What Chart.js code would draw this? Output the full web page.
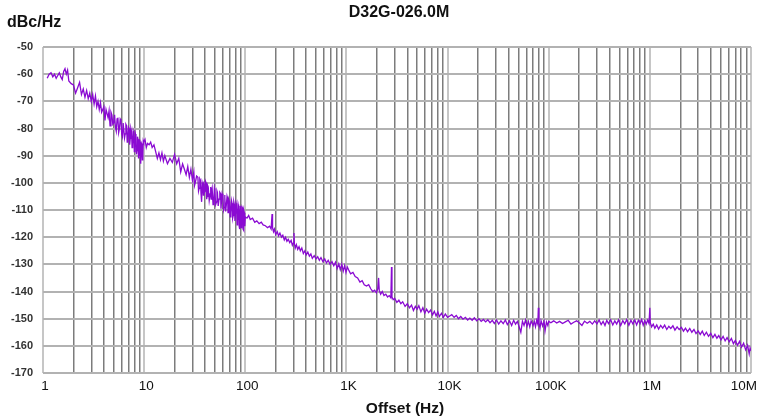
<!DOCTYPE html>
<html>
<head>
<meta charset="utf-8">
<title>D32G-026.0M</title>
<script src="https://cdn.jsdelivr.net/npm/chart.js@4"></script>
<style>
  html, body { margin: 0; padding: 0; background: #fff; }
  #wrap { width: 759px; height: 419px; }
</style>
</head>
<body>
<div id="wrap"><canvas id="chart" width="759" height="419"></canvas></div>
<script>
// Phase noise of D32G-026.0M (offset in Hz, level in dBc/Hz)
const chartTitle = 'D32G-026.0M';
const yTitle = 'dBc/Hz';
const xTitle = 'Offset (Hz)';

const xMajorTicks = [1, 10, 100, 1000, 10000, 100000, 1000000, 10000000];
const xTickLabels = ['1', '10', '100', '1K', '10K', '100K', '1M', '10M'];
const yMin = -170, yMax = -50, yStep = 10;

// 1 Hz .. 10 Hz
const offset1 = [1.1,1.15,1.2,1.25,1.3,1.35,1.4,1.45,1.5,1.55, 1.6,1.65,1.7,1.75,1.8,1.9,2.0,2.1,2.2,2.3,
  2.4,2.5,2.6,2.7,2.8,2.9,3.0,3.1,3.2,3.3, 3.4,3.5,3.6,3.7,3.8,4.0,4.1,4.2,4.4,4.5,
  4.6,4.7,4.8,4.9,5.0,5.1,5.2,5.3,5.4,5.5, 5.6,5.7,5.8,5.9,6.0,6.1,6.2,6.3,6.4,6.5,
  6.6,6.7,6.8,6.9,7.0,7.1,7.2,7.3,7.4,7.5, 7.6,7.7,7.8,7.9,8.0,8.1,8.2,8.3,8.4,8.5,
  8.6,8.7,8.8,8.9,9.0,9.1,9.2,9.3,9.4,9.5, 9.6,9.7,9.8,9.9];
const noise1 = [-61.5,-60,-59.5,-61,-60,-61.5,-60.5,-59.5,-61,-62, -59,-58,-60,-58.5,-62.5,-63.5,-64,-67,-65,-63,
  -67.5,-65.5,-68.5,-66,-69,-67,-70,-67.5,-71,-68, -72,-70,-73,-70.5,-74,-72,-77,-73,-76,-73.5,
  -79,-74,-75,-78.5,-78,-75,-79.5,-81,-76.5,-76, -81.5,-80,-76.5,-77,-82,-83,-78,-78,-83.5,-82,
  -78.5,-79,-85,-84,-79.5,-80,-86,-83.5,-80,-81, -87,-86,-81,-82,-88.5,-87,-82,-83,-89.5,-88,
  -83,-84,-91,-90,-84,-85,-93,-92.5,-85.5,-86, -91.5,-90,-84.5,-85];

// 10 Hz .. 100 Hz
const offset2 = [10.2,10.5,10.8,11.2,11.6,12,12.5,13,13.5,14, 14.5,15,15.5,16,17,18,19,20,21,22,
  23,24,25,26,27,28,29,
  30,31,31.5,32,33,34,34.5,35,35.5,36, 36.5,37,37.5,38,38.5,39,39.5,40,40.5,41,
  41.5,42,42.5,43,44,45,45.5,46,46.5,47, 48,49,49.5,50,51,52,52.5,53,54,55,
  56,57,57.5,58,59,60,61,62,62.5,63, 64,65,66,67,67.5,68,69,70,71,72,
  73,74,75,76,77,78,79,80,81,82, 83,84,85,86,87,88,89,90,91,92,
  93,94,95,96,97,98,99];
const noise2 = [-84,-87,-85.5,-86,-85,-87,-86,-88.5,-91,-89, -91.5,-89,-92,-90,-93,-91,-92.5,-89.5,-93,-91,
  -96,-93,-95,-97,-94,-98,-95,
  -99,-96,-101,-100,-97.5,-98,-103,-102,-98.5,-99, -104,-107,-100,-101,-104.5,-99.5,-103.5,-103,-99.5,-100,
  -106,-105,-101,-101.5,-106.5,-104,-101.5,-106,-103,-102, -108,-105,-102,-103,-108,-107,-103,-103.5,-108.5,-106,
  -103.5,-104,-109.5,-107.5,-104,-105,-110,-109,-104.5,-105.5, -110.5,-108,-105,-106,-111,-110,-106,-107,-112.5,-111,
  -106.5,-107.5,-113,-112,-107,-108,-114,-111,-107.5,-108.5, -115.5,-114,-108,-109,-116,-117,-108.5,-110,-116.5,-115,
  -109,-109.5,-117,-117.5,-110,-111,-116];

// 100 Hz .. 1 kHz
const offset3 = [100,104,108,112,118,124,130,137,144,150, 158,166,174,180,184,186,190,194,200,207,
  213,220,228,235,243,250,258,266,275,284, 292,300,303,306,312,320,330,340,350,362,
  375,388,400,415,430,445,460,480,500,520, 540,560,585,610,635,660,690,720,750,780,
  810,840,870,900,930,960,990];
const noise3 = [-112.5,-113,-112,-113.5,-113,-114.5,-114,-115,-114.5,-115.5, -115.8,-116.5,-116,-117,-111.5,-116.5,-118,-117,-119,-118,
  -119.5,-118.5,-120,-119.3,-121,-120,-121.5,-120.8,-122,-121.2, -123,-122,-118.5,-122.5,-124,-122.8,-124.5,-123.5,-125,-124,
  -126,-125,-126.5,-125.5,-127,-126.2,-127.8,-126.8,-128,-127.2, -128.5,-127.5,-129,-128,-129.5,-128.5,-130,-129,-130.5,-129.2,
  -131.5,-129.8,-132,-130,-132.5,-130.5,-133];

// 1 kHz .. 10 kHz
const offset4 = [1020,1050,1100,1160,1220,1290,1360,1430,1500,1580, 1660,1740,1820,1900,1980,2040,2080,2110,2180,2260,
  2350,2450,2550,2650,2750,2790,2820,2900,3000,3150, 3300,3450,3600,3800,4000,4200,4400,4600,4800,5000,
  5200,5450,5700,5950,6200,6500,6800,7100,7400,7700, 8000,8300,8700,9100,9500];
const noise4 = [-131,-132,-133.5,-133,-134.5,-135,-136.5,-136,-137.5,-138, -137.5,-139,-140,-139.5,-140.5,-139,-135,-139.5,-141,-140,
  -141.5,-141,-142,-141.5,-142.3,-131,-142,-143,-142.5,-144, -143.2,-144.5,-143.8,-145.5,-144.5,-146,-145,-147,-145.5,-146.5,
  -145.2,-147.5,-146,-148,-146.5,-147.8,-146.8,-148.6,-147.3,-149, -147.5,-149.2,-148,-149.5,-148.3];

// 10 kHz .. 100 kHz
const offset5 = [10000,10500,11000,11600,12200,12800,13500,14200,15000,15800, 16600,17500,18400,19400,20400,21500,22600,23800,25000,26300,
  27700,29000,30500,32000,33700,35500,37300,39000,41000,43000, 45000,47000,49000,51000,53000,55000,57000,59000,61000,63000,
  65000,67000,70000,72000,74000,76000,78000,79000,80000,82000, 84000,87000,90000,92000,95000,98000];
const noise5 = [-149.5,-149,-148.5,-149.5,-148.8,-150,-149.2,-150.2,-149.5,-150.5, -149.8,-150.6,-149.7,-150.8,-150,-151,-150.3,-151.2,-150.4,-151.5,
  -150.6,-151.8,-150.5,-152,-150.8,-151.8,-150.5,-152.2,-150.8,-152.5, -150.6,-152,-151,-153,-155,-151,-152.5,-150.5,-152.8,-151,
  -153,-150.8,-152.5,-151,-153,-150.6,-152,-146,-151.5,-153.5, -150.8,-152.7,-151,-154.5,-151.2,-152.5];

// 100 kHz .. 1 MHz
const offset6 = [100000,105000,112000,120000,128000,137000,146000,156000,166000,177000, 189000,200000,213000,226000,240000,255000,270000,285000,300000,315000,
  330000,345000,360000,375000,390000,410000,430000,450000,470000,490000, 515000,540000,565000,590000,620000,650000,680000,710000,740000,770000,
  800000,830000,860000,890000,920000,950000,980000,1000000,1010000];
const noise6 = [-151,-151.5,-150.8,-151.6,-151,-151.8,-151.2,-150.6,-152,-151.3, -150.8,-151.5,-152.5,-150.9,-151.7,-151,-152,-150.8,-151.9,-150.5,
  -152.2,-151,-152.5,-150.6,-151.8,-150.4,-152.3,-150.8,-152,-150.5, -152.5,-150.7,-151.9,-150.4,-152.4,-150.6,-152,-150.5,-152.3,-150.6,
  -151.8,-150.3,-152.4,-150.7,-152,-150.5,-151.8,-146,-151.5];

// 1 MHz .. 10 MHz
const offset7 = [1040000,1080000,1120000,1170000,1220000,1280000,1340000,1400000,1470000,1540000, 1610000,1690000,1770000,1860000,1950000,2050000,2150000,2250000,2360000,2480000,
  2600000,2730000,2860000,3000000,3150000,3300000,3450000,3620000,3800000,4000000, 4200000,4400000,4600000,4800000,5050000,5300000,5550000,5800000,6100000,6400000,
  6700000,7000000,7350000,7700000,8050000,8450000,8850000,9250000,9600000,9800000, 10000000];
const noise7 = [-153,-152,-153.5,-152.3,-153.8,-152.5,-153.5,-152.4,-154,-152.8, -153.6,-152.6,-154.2,-153,-154,-153.2,-154.6,-153.5,-154.8,-153.6,
  -155,-154,-155.5,-154.5,-155.8,-154.6,-156.2,-155,-156.5,-155.4, -157,-155.8,-157.2,-156.2,-157.8,-156.5,-158.2,-157,-158.5,-157.3,
  -159.2,-158,-159.8,-158.4,-160.5,-159,-161.5,-159.8,-163,-160.8, -161.8];

const offsets = [].concat(offset1, offset2, offset3, offset4, offset5, offset6, offset7);
const noise = [].concat(noise1, noise2, noise3, noise4, noise5, noise6, noise7);
const points = offsets.map((f, i) => ({ x: f, y: noise[i] }));

// grid lines at 1..9 x each decade
const xGridTicks = [];
xMajorTicks.forEach(d => {
  for (let m = 1; m <= 9; m++) {
    if (d * m <= 10000000) xGridTicks.push(d * m);
  }
});

const textPlugin = {
  id: 'texts',
  afterDraw(chart) {
    const ctx = chart.ctx;
    const xs = chart.scales.x;
    ctx.save();
    ctx.fillStyle = '#111';
    ctx.textBaseline = 'middle';
    ctx.font = 'bold 16px "Liberation Sans", Arial, sans-serif';
    ctx.textAlign = 'center';
    ctx.fillText(chartTitle, 399, 13);
    ctx.textAlign = 'left';
    ctx.fillText(yTitle, 7, 23);
    ctx.font = 'bold 15.5px "Liberation Sans", Arial, sans-serif';
    ctx.textAlign = 'center';
    ctx.fillText(xTitle, 405, 409);
    // x tick labels, kept inside the canvas at the right edge
    ctx.font = '13.5px "Liberation Sans", Arial, sans-serif';
    ctx.fillStyle = '#111';
    xMajorTicks.forEach((v, i) => {
      let px = xs.getPixelForValue(v) + 2;
      const w = ctx.measureText(xTickLabels[i]).width;
      px = Math.min(px, chart.width - 2 - w / 2);
      ctx.fillText(xTickLabels[i], px, 386);
    });
    ctx.restore();
  }
};

new Chart(document.getElementById('chart'), {
  type: 'line',
  data: {
    datasets: [{
      data: points,
      borderColor: '#8a0ad2',
      borderWidth: 1.3,
      pointRadius: 0,
      tension: 0,
      fill: false
    }]
  },
  options: {
    responsive: false,
    animation: false,
    layout: { padding: { top: 47, right: 8, left: 0, bottom: 0 } },
    plugins: { legend: { display: false }, tooltip: { enabled: false } },
    scales: {
      x: {
        type: 'logarithmic',
        min: 1,
        max: 10000000,
        afterBuildTicks: (scale) => {
          scale.ticks = xGridTicks.map(v => ({ value: v }));
        },
        afterFit: (scale) => {
          scale.height = 46;
          scale.paddingLeft = 0;
          scale.paddingRight = 0;
        },
        ticks: { display: false, autoSkip: false },
        border: { display: false },
        grid: {
          drawTicks: false,
          color: (c) => xMajorTicks.includes(c.tick && c.tick.value) ? '#c6c6c6' : '#7c7c7c',
          lineWidth: (c) => xMajorTicks.includes(c.tick && c.tick.value) ? 2 : 1.5
        }
      },
      y: {
        min: yMin,
        max: yMax,
        afterFit: (scale) => {
          scale.width = 43;
          scale.paddingTop = 0;
          scale.paddingBottom = 0;
        },
        ticks: {
          stepSize: yStep,
          padding: 10,
          color: '#333',
          font: { family: '"Liberation Sans", Arial, sans-serif', size: 11, weight: 'bold' }
        },
        border: { display: false },
        grid: { drawTicks: false, color: '#b2b2b2', lineWidth: 2 }
      }
    }
  },
  plugins: [textPlugin]
});
</script>
</body>
</html>
